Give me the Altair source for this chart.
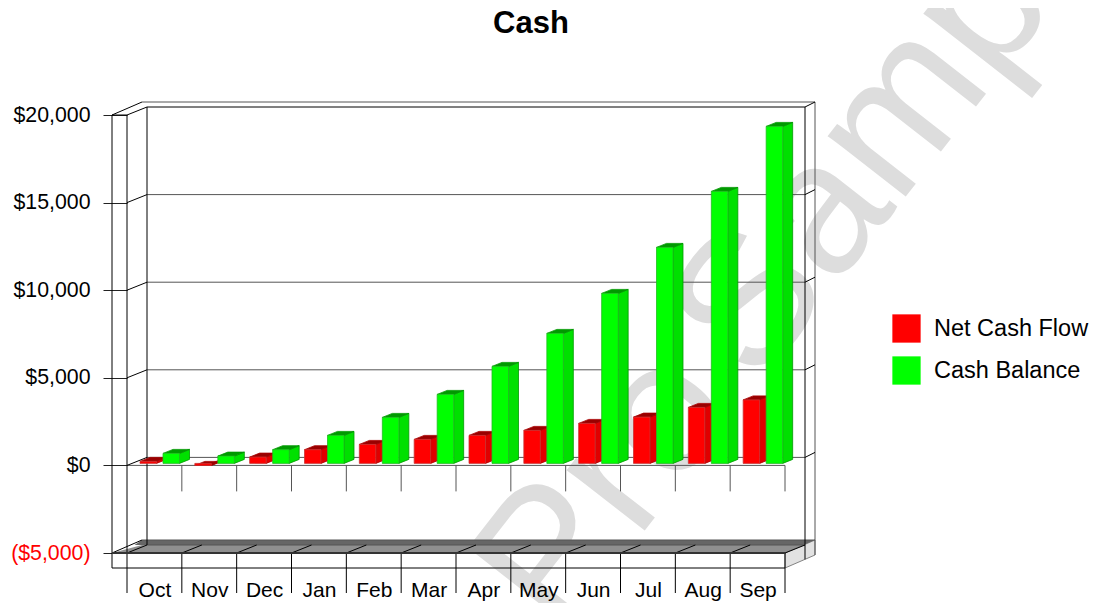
import altair as alt
import pandas as pd

chart_title = "Cash"
watermark_words = ["Pro", "Sample"]
months = ["Oct", "Nov", "Dec", "Jan", "Feb", "Mar", "Apr", "May", "Jun", "Jul", "Aug", "Sep"]
net_cash_flow = [114, -114, 360, 782, 1084, 1370, 1598, 1884, 2283, 2643, 3196, 3625]
cash_balance = [571, 417, 782, 1598, 2626, 3938, 5537, 7420, 9703, 12329, 15525, 19235]
series_names = ["Net Cash Flow", "Cash Balance"]
series_colors = ["#ff0000", "#00ff00"]
y_ticks = [-5000, 0, 5000, 10000, 15000, 20000]

FONT = "Liberation Sans"
W, H = 658, 438
N = len(months)
YMIN, YMAX = y_ticks[0], y_ticks[-1]
UX = N / W            # one pixel of depth, in months
UY = (YMAX - YMIN) / H  # one pixel of depth, in dollars

# projection of the 3-D box, expressed in the scale's units
WALL = 15 * UX
IN_X, IN_Y = 20 * UX, 8 * UY
OUT_X, OUT_Y = 30 * UX, 13 * UY
BAR_X, BAR_Y = 10 * UX, 4 * UY
BAR_BASE = 2 * UY
BAR_W = 16.5 * UX
RED_START = 13 * UX
GREEN_START = 36 * UX
FLOOR = 15 * UY
TICK_LOW = 40 * UY
TICK_ZERO = 26 * UY

sx = alt.Scale(domain=[0, N], nice=False, zero=False)
sy = alt.Scale(domain=[YMIN, YMAX], nice=False, zero=False)
label_expr = "[" + ",".join(f"'{m}'" for m in months) + "][floor(datum.value)]"
x_axis = alt.Axis(values=[i + 0.5 for i in range(N)], labelExpr=label_expr, ticks=False, domain=False,
                  grid=False, title=None, labelPadding=26, labelFontSize=21, labelFont=FONT, zindex=1,
                  labelColor="black", labelAngle=0, labelOverlap=False, labelFlush=False)
y_axis = alt.Axis(values=y_ticks, tickSize=24, tickColor="#222222", domain=False, grid=False, title=None,
                  labelPadding=13, labelFontSize=21.3, labelFont=FONT, labelOverlap=False, labelFlush=False,
                  labelExpr="datum.value<0 ? '($'+format(-datum.value,',')+')' : '$'+format(datum.value,',')",
                  labelColor={"condition": {"test": "datum.value<0", "value": "#ff0000"}, "value": "#000000"})


def X(f="x"):
    return alt.X(f"{f}:Q", scale=sx, axis=x_axis)


def Y(f="y"):
    return alt.Y(f"{f}:Q", scale=sy, axis=y_axis)


def rules(segs, color, width=1.0):
    df = pd.DataFrame(segs, columns=["x", "y", "x2", "y2"])
    return alt.Chart(df).mark_rule(color=color, strokeWidth=width).encode(
        x=X(), y=Y(), x2=alt.X2("x2:Q"), y2=alt.Y2("y2:Q"))


def vertical_area(rows, fill, stroke=None, sw=0.8):
    df = pd.DataFrame(rows, columns=["id", "x", "y", "y2"])
    kw = dict(stroke=stroke, strokeWidth=sw) if stroke else {}
    return alt.Chart(df).mark_area(color=fill, opacity=1, orient="vertical", **kw).encode(
        x=X(), y=Y(), y2=alt.Y2("y2:Q"), detail="id:N")


def horizontal_area(rows, fill, stroke=None, sw=0.8):
    df = pd.DataFrame(rows, columns=["id", "y", "x", "x2"])
    kw = dict(stroke=stroke, strokeWidth=sw) if stroke else {}
    return alt.Chart(df).mark_area(color=fill, opacity=1, orient="horizontal", **kw).encode(
        y=Y(), x=X(), x2=alt.X2("x2:Q"), detail="id:N")


# watermark: two words, because the reference sets them closer than a normal word space
wm = alt.Chart(pd.DataFrame({
    "x": [(560 - 127) * UX, (757 - 127) * UX],
    "y": [YMIN - (639 - 553) * UY, YMIN - (387 - 553) * UY],
    "t": watermark_words,
})).mark_text(
    font=FONT, fontSize=187, angle=308, align="left", baseline="alphabetic", color="#dddddd"
).encode(x=X(), y=Y(), text="t:N")

# chart title, placed as a text mark so the oversized watermark cannot push it away
title_mark = alt.Chart(pd.DataFrame({"x": [(531 - 127) * UX], "y": [YMAX + (115 - 33) * UY], "t": [chart_title]})).mark_text(
    font=FONT, fontSize=31, fontWeight="bold", align="center", baseline="alphabetic", color="#000000"
).encode(x=X(), y=Y(), text="t:N")

# floor
floor_main = horizontal_area([[0, YMIN, -WALL, N], [0, YMIN + IN_Y, -WALL + IN_X * 1.5, N + IN_X]], "#8f8f8f")
floor_back = horizontal_area([[0, YMIN + IN_Y, -WALL + OUT_X * 0.75, N + IN_X],
                              [0, YMIN + OUT_Y, -WALL + OUT_X, N + OUT_X]], "#666666")
floor_side = vertical_area([[0, N, YMIN - FLOOR, YMIN], [0, N + OUT_X, YMIN - FLOOR + OUT_Y, YMIN + OUT_Y]],
                           "#e2e2e2", "#666666", 0.8)

# frame lines
black = [
    (-WALL, YMAX, -WALL, YMIN - FLOOR),
    (0, YMAX, 0, YMIN - TICK_LOW),
    (-WALL, YMAX, 0, YMAX),
    (-WALL, YMAX, -WALL + OUT_X, YMAX + OUT_Y),
    (0, YMAX, IN_X, YMAX + IN_Y),
    (IN_X, YMAX + IN_Y, IN_X, YMIN + IN_Y),
    (IN_X, YMAX + IN_Y, N + IN_X, YMAX + IN_Y),
    (N + IN_X, YMAX + IN_Y, N + IN_X, YMIN - FLOOR + OUT_Y * IN_X / OUT_X),
    (N + IN_X, YMAX + IN_Y, N + OUT_X, YMAX + OUT_Y),
    (-WALL, YMIN - FLOOR, N, YMIN - FLOOR),
    (-WALL, YMIN + OUT_Y * 0, -WALL + OUT_X, YMIN + OUT_Y),
    (0, YMIN, IN_X, YMIN + IN_Y),
]
gray = [
    (-WALL + OUT_X, YMAX + OUT_Y, N + OUT_X, YMAX + OUT_Y),
    (N + OUT_X, YMAX + OUT_Y, N + OUT_X, YMIN - FLOOR + OUT_Y),
    (-WALL + OUT_X, YMIN + OUT_Y, N + OUT_X, YMIN + OUT_Y),
    (IN_X, YMIN + IN_Y, N + IN_X, YMIN + IN_Y),
]
for v in y_ticks[1:-1]:
    gray.append((IN_X, v + IN_Y, N + IN_X, v + IN_Y))
    black.append((0, v, IN_X, v + IN_Y))
    black.append((N + IN_X, v + IN_Y, N + OUT_X, v + OUT_Y))
gray.append((0, 0, N, 0))
for i in range(1, N + 1):
    gray.append((i, 0, i, -TICK_ZERO))
    black.append((i, YMIN, i, YMIN - TICK_LOW))
    black.append((i, YMIN, i + IN_X, YMIN + IN_Y))


def bar_layers(values, start, name, front_stroke, side, top, edge):
    side_rows, top_rows, front = [], [], []
    for i, v in enumerate(values):
        x0 = i + start
        x1 = x0 + BAR_W
        t = v + BAR_BASE
        side_rows += [[i, x1, BAR_BASE, t], [i, x1 + BAR_X, BAR_BASE + BAR_Y, t + BAR_Y]]
        top_rows += [[i, t, x0, x1], [i, t + BAR_Y, x0 + BAR_X, x1 + BAR_X]]
        front.append({"x": x0, "x2": x1, "y": BAR_BASE, "y2": t, "series": name})
    f = alt.Chart(pd.DataFrame(front)).mark_rect(stroke=front_stroke, strokeWidth=0.8).encode(
        x=X(), x2=alt.X2("x2:Q"), y=Y(), y2=alt.Y2("y2:Q"),
        color=alt.Color("series:N", scale=alt.Scale(domain=series_names, range=series_colors),
                        legend=alt.Legend(orient="none", legendX=765, legendY=199, title=None, symbolType="square",
                                          symbolSize=800, symbolStrokeWidth=0, labelFont=FONT, labelFontSize=23.5,
                                          labelColor="black", labelOffset=13, rowPadding=13, padding=0,
                                          symbolOpacity=1)))
    return [vertical_area(side_rows, side, edge), horizontal_area(top_rows, top, edge), f]


layers = [wm, title_mark, floor_main, floor_back, floor_side, rules(gray, "#555555"), rules(black, "#000000"),
          rules([(-WALL, YMIN, N, YMIN)], "#333333", 2)]
layers += bar_layers(net_cash_flow, RED_START, series_names[0], "#cc3333", "#e00000", "#990000", "#aa0000")
layers += bar_layers(cash_balance, GREEN_START, series_names[1], "#22bb22", "#00e000", "#009900", "#009900")

chart = alt.layer(*layers).properties(
    width=W, height=H,
    autosize=alt.AutoSizeParams(type="none"),
    padding={"left": 119, "top": 107, "right": 308, "bottom": 50},
).configure_view(stroke=None)

chart.save("out.html", embed_options={"renderer": "svg", "actions": False})
